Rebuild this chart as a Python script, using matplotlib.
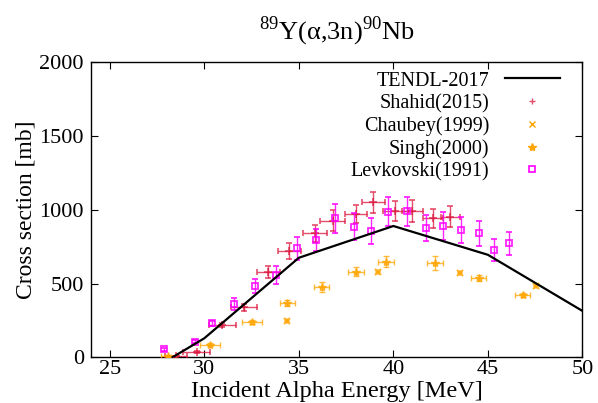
import numpy as np
import matplotlib
matplotlib.use("Agg")
import matplotlib.pyplot as plt
from matplotlib.lines import Line2D

plt.rcParams['font.family'] = ['Liberation Serif', 'DejaVu Serif']
plt.rcParams['mathtext.fontset'] = 'custom'
plt.rcParams['mathtext.rm'] = 'Liberation Serif'

# TENDL-2017 evaluation
tendl_e = [28.3, 30, 35, 40, 45, 50]
tendl_xs = [0, 130, 675, 890, 695, 315]

# Shahid(2015)
shahid_e = [28.5, 29.59, 30.96, 32.09, 33.38, 34.49, 35.85, 36.78, 38.02, 38.94, 40.1, 41.0, 42.1, 43.02]
shahid_xs = [8, 37, 220, 340, 581, 720, 840, 926, 969, 1050, 991, 991, 942, 953]
shahid_de = [0.6, 0.7, 0.7, 0.68, 0.6, 0.6, 0.63, 0.66, 0.6, 0.62, 0.66, 0.57, 0.53, 0.49]
shahid_dxs = [5, 10, 15, 25, 40, 56, 56, 71, 62, 73, 68, 75, 64, 70]

# Chaubey(1999)
chaubey_e = [34.38, 39.2, 43.52, 47.54]
chaubey_xs = [249, 576, 570, 484]

# Singh(2000)
singh_e = [28.1, 30.29, 32.5, 34.38, 36.2, 38.02, 39.6, 42.2, 44.52, 46.84]
singh_xs = [12, 85, 242, 371, 479, 581, 648, 642, 536, 423]
singh_de = [0.4, 0.53, 0.53, 0.4, 0.4, 0.4, 0.42, 0.41, 0.4, 0.4]
singh_dxs = [8, 10, 15, 20, 34, 30, 38, 48, 20, 15]

# Levkovski(1991)
levk_e = [27.87, 29.5, 30.38, 31.58, 32.69, 33.78, 34.88, 35.9, 36.9, 37.91, 38.79,
          39.69, 40.71, 41.7, 42.62, 43.6, 44.52, 45.32, 46.13]
levk_xs = [57, 107, 231, 360, 484, 558, 739, 793, 942, 885, 856,
           987, 989, 878, 890, 863, 840, 727, 772]
levk_dxs = [10, 10, 15, 40, 47, 58, 77, 75, 98, 90, 87,
            100, 100, 87, 92, 90, 85, 73, 79]

fig = plt.figure(figsize=(5.98, 4.03), dpi=100)
ax = fig.add_axes([0.152, 0.113, 0.822, 0.733])

ax.plot(tendl_e, tendl_xs, color='black', lw=1.6, zorder=5)
ax.errorbar(shahid_e, shahid_xs, xerr=shahid_de, yerr=shahid_dxs, fmt='+', color='crimson',
            ms=6, mew=1.2, elinewidth=1, capsize=2.5, alpha=0.75, zorder=3)
ax.plot(chaubey_e, chaubey_xs, 'x', color='orange', ms=5, mew=1.5, alpha=0.85, zorder=3)
ax.plot(chaubey_e, chaubey_xs, '+', color='orange', ms=4, mew=1.2, alpha=0.6, zorder=3)
ax.errorbar(singh_e, singh_xs, xerr=singh_de, yerr=singh_dxs, fmt='*', color='orange',
            ms=6, mew=1, elinewidth=1, capsize=2.5, alpha=0.75, zorder=3)
ax.errorbar(levk_e, levk_xs, yerr=levk_dxs, fmt='s', mfc='none', mec='magenta', color='magenta',
            ms=5, mew=1.3, elinewidth=1, capsize=2.5, alpha=0.85, zorder=4)

ax.set_xlim(24, 50)
ax.set_ylim(0, 2000)
ax.set_xticks([25, 30, 35, 40, 45, 50])
ax.set_yticks([0, 500, 1000, 1500, 2000])
ax.tick_params(direction='in', top=True, right=True, length=5, labelsize=16)
ax.tick_params(axis='x', pad=2)
ax.tick_params(axis='y', pad=5)
for s in ax.spines.values():
    s.set_linewidth(1)

ax.set_ylabel('Cross section [mb]', fontsize=17, labelpad=2)
fig.text(0.563, 0.016, 'Incident Alpha Energy [MeV]', fontsize=17.5, ha='center', va='baseline')
ax.set_title('$^{89}$Y(α,3n)$^{90}$Nb', fontsize=19, pad=16)

handles = [
    Line2D([], [], color='black', lw=1.6),
    Line2D([], [], ls='none', marker='+', color='crimson', ms=5, mew=1, alpha=0.75),
    Line2D([], [], ls='none', marker='x', color='orange', ms=5, mew=1),
    Line2D([], [], ls='none', marker='*', color='orange', ms=6),
    Line2D([], [], ls='none', marker='s', mfc='none', mec='magenta', ms=5, mew=1.2),
]
labels = ['TENDL-2017', 'Shahid(2015)', 'Chaubey(1999)', 'Singh(2000)', 'Levkovski(1991)']
leg = ax.legend(handles, labels, loc='upper right', bbox_to_anchor=(0.982, 1.016), frameon=False,
                markerfirst=False, fontsize=14.5, handlelength=2.7, labelspacing=0.16,
                borderaxespad=0.3, handletextpad=0.8)
leg._legend_box.align = 'right'

fig.savefig('out.png', dpi=100)
